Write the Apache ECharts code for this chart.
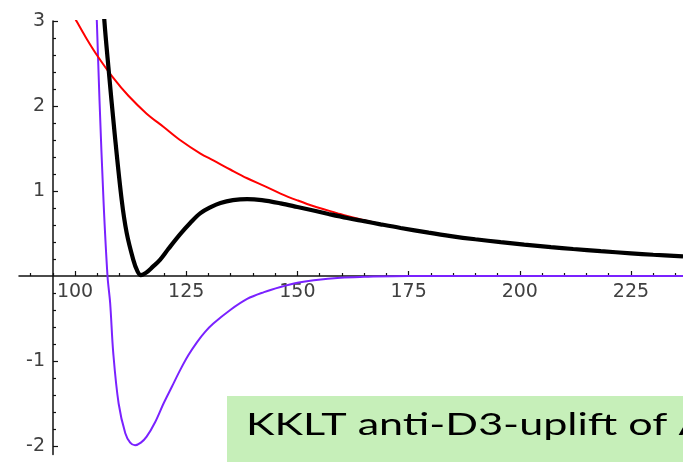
<!DOCTYPE html>
<html><head><meta charset="utf-8">
<script src="https://cdn.jsdelivr.net/npm/echarts@6/dist/echarts.min.js"></script>
<style>html,body{margin:0;padding:0;background:#fff}#c{width:683px;height:462px}</style>
</head><body><div id="c"></div>
<script>
// ---- data ----
const blackX = [106.3,106.6,107.5,108.9,110.5,111.6,113.1,114.0,114.8,116.0,117.5,119.1,121.0,123.6,126.0,128.2,130.5,132.7,135.5,138.7,142.0,146.2,150.0,153.6,157.0,161.2,165.0,168.7,173.2,179.5,184.5,190.0,195.7,201.0,207.0,212.0,218.2,225.0,230.0,236.7];
const blackY = [3.3,3.0,2.46,1.68,0.89,0.51,0.19,0.06,0.01,0.04,0.11,0.19,0.32,0.49,0.63,0.74,0.81,0.86,0.893,0.905,0.893,0.855,0.812,0.77,0.73,0.683,0.645,0.608,0.565,0.51,0.47,0.432,0.398,0.369,0.34,0.318,0.292,0.267,0.25,0.23];

const redX = [99.5,100.0,102.5,104.9,108.6,112.0,116.1,120.0,123.6,128.2,131.1,135.0,138.7,142.5,146.2,150.0,153.7,158.9,161.2,165.0,168.7,173.2,179.5,184.5,190.0,195.7,201.0,207.0,212.0,218.2,225.0,230.0,236.7];
const redY = [3.08,3.03,2.8,2.6,2.33,2.12,1.91,1.75,1.6,1.44,1.36,1.25,1.15,1.06,0.97,0.89,0.82,0.74,0.705,0.655,0.613,0.568,0.512,0.472,0.434,0.4,0.371,0.342,0.32,0.294,0.269,0.252,0.232];

const blueX = [104.6,104.9,105.5,106.4,107.3,107.9,108.6,109.8,111.3,112.4,113.5,114.8,116.1,118.0,119.9,121.8,123.6,125.5,127.4,129.2,131.1,134.9,138.7,142.5,146.2,150.0,153.7,159.7,165.0,175.0,236.7];
const blueY = [3.4,3.0,2.07,0.89,0.0,-0.32,-0.91,-1.5,-1.85,-1.96,-1.99,-1.96,-1.89,-1.72,-1.5,-1.3,-1.11,-0.93,-0.78,-0.66,-0.56,-0.4,-0.27,-0.19,-0.13,-0.08,-0.05,-0.02,-0.01,0,0];

const xLabels = [100,125,150,175,200,225];
const xMinor = [90,95,105,110,115,120,130,135,140,145,155,160,165,170,180,185,190,195,205,210,215,220,230,235];
const yLabels = [-2,-1,1,2,3];
const yMinor = [-1.8,-1.6,-1.4,-1.2,-0.8,-0.6,-0.4,-0.2,0.2,0.4,0.6,0.8,1.2,1.4,1.6,1.8,2.2,2.4,2.6,2.8];
const boxText = 'KKLT anti-D3-uplift of A';

const pair = (xs, ys) => xs.map((x, i) => [x, ys[i]]);

const chart = echarts.init(document.getElementById('c'), null, {renderer: 'canvas'});
const axisCol = '#111';
const lblStyle = {color: '#404040', fontFamily: 'DejaVu Sans', fontSize: 19};
const X_MIN = 87.4, X_MAX = 236.7;
const xBase = {type: 'value', min: X_MIN, max: X_MAX, position: 'bottom', splitLine: {show: false}};
const yBase = {type: 'value', min: -2.1, max: 3, position: 'left', offset: -34, splitLine: {show: false}};

chart.setOption({
  animation: false,
  backgroundColor: '#fff',
  grid: [
    {left: 19, right: 0, top: 21, bottom: 7.5, containLabel: false, outerBoundsMode: 'none'},
    // upper grid whose bottom edge is the zero line: carries the visible x axis
    {left: 19, right: 0, top: 21, bottom: 186, containLabel: false, outerBoundsMode: 'none'}
  ],
  xAxis: [
    Object.assign({}, xBase, {gridIndex: 0, show: false, axisLine: {onZero: false}}),
    Object.assign({}, xBase, {gridIndex: 1,
      axisLine: {show: true, onZero: false, lineStyle: {color: axisCol, width: 1.5}},
      axisTick: {show: true, inside: true, length: 5, customValues: xLabels, lineStyle: {color: axisCol, width: 1.2}},
      axisLabel: {show: true, customValues: xLabels, margin: 7, ...lblStyle}
    }),
    Object.assign({}, xBase, {gridIndex: 1,
      axisLine: {show: false, onZero: false},
      axisTick: {show: true, inside: true, length: 3, customValues: xMinor, lineStyle: {color: axisCol, width: 1.2}},
      axisLabel: {show: false}
    })
  ],
  yAxis: [
    Object.assign({}, yBase, {gridIndex: 0,
      axisLine: {show: true, onZero: false, lineStyle: {color: axisCol, width: 1.5}},
      axisTick: {show: true, inside: true, length: 5, customValues: yLabels, lineStyle: {color: axisCol, width: 1.2}},
      axisLabel: {show: true, customValues: yLabels, margin: 8, ...lblStyle}
    }),
    Object.assign({}, yBase, {gridIndex: 0,
      axisLine: {show: false, onZero: false},
      axisTick: {show: true, inside: true, length: 3, customValues: yMinor, lineStyle: {color: axisCol, width: 1.2}},
      axisLabel: {show: false}
    }),
    {type: 'value', gridIndex: 1, min: 0, max: 3, show: false, splitLine: {show: false}}
  ],
  series: [
    {type: 'line', name: 'AdS', xAxisIndex: 0, yAxisIndex: 0, data: pair(blueX, blueY), smooth: 0.35, showSymbol: false, clip: true, z: 3,
     lineStyle: {color: '#7a22ff', width: 2}},
    {type: 'line', name: 'uplift', xAxisIndex: 0, yAxisIndex: 0, data: pair(redX, redY), smooth: 0.35, showSymbol: false, clip: true, z: 4,
     lineStyle: {color: '#ff0000', width: 2}},
    {type: 'line', name: 'total', xAxisIndex: 0, yAxisIndex: 0, data: pair(blackX, blackY), smooth: 0.35, showSymbol: false, clip: true, z: 5,
     lineStyle: {color: '#000', width: 4.2}}
  ],
  graphic: [
    {type: 'rect', left: 227, top: 396, shape: {width: 460, height: 70}, style: {fill: '#c6efb9'}, z: 100},
    {type: 'text', x: 246, y: 409, scaleX: 1.39, scaleY: 1,
     style: {text: boxText, x: 0, y: 0, font: '31px Lato', fill: '#000', align: 'left', verticalAlign: 'top'}, z: 101}
  ]
});
</script>
</body></html>
